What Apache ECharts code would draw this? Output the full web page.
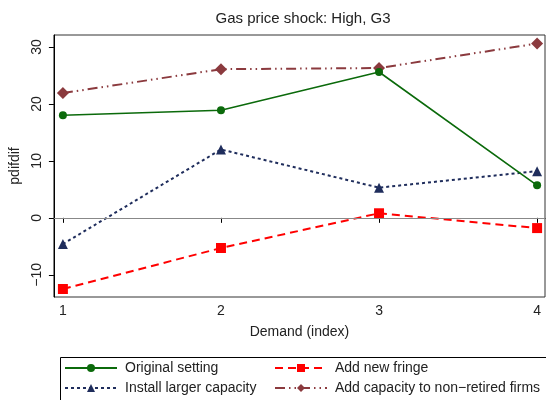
<!DOCTYPE html>
<html>
<head>
<meta charset="utf-8">
<script src="https://cdn.jsdelivr.net/npm/echarts@6/dist/echarts.min.js"></script>
<style>
  html, body { margin: 0; padding: 0; background: #fff; }
  #chart { width: 546px; height: 400px; }
</style>
</head>
<body>
<div id="chart"></div>
<script>
var demand = [1, 2, 3, 4];
var original = [18.0, 18.9, 25.6, 5.7];
var newFringe = [-12.5, -5.3, 0.8, -1.8];
var largerCap = [-4.6, 12.0, 5.3, 8.2];
var nonRetired = [21.9, 26.1, 26.3, 30.6];

var xTicks = [1, 2, 3, 4];
var yTicks = [-10, 0, 10, 20, 30];

var seriesNames = [
    'Original setting',
    'Add new fringe',
    'Install larger capacity',
    'Add capacity to non\u2212retired firms'
];

function pairs(vals) {
    return demand.map(function (d, i) { return [d, vals[i]]; });
}

var font = 'Liberation Sans, Arial, sans-serif';

var myChart = echarts.init(document.getElementById('chart'));

var legendBase = {
    orient: 'vertical', top: 361, height: 38, padding: 0,
    itemWidth: 52, itemHeight: 10, itemGap: 6,
    textStyle: { fontFamily: font, fontSize: 14, color: '#222', lineHeight: 14, padding: [0, 0, 0, 3] }
};

var option = {
    animation: false,
    backgroundColor: '#fff',
    textStyle: { fontFamily: font },
    title: {
        text: 'Gas price shock: High, G3',
        left: 298, top: 6, textAlign: 'center',
        textStyle: { fontFamily: font, fontSize: 15, fontWeight: 'normal', color: '#222' }
    },
    grid: {
        left: 52, right: 1, top: 35, bottom: 103,
        show: true, borderColor: '#333', borderWidth: 1
    },
    xAxis: {
        type: 'value', min: 0.943, max: 4.05,
        name: 'Demand (index)', nameLocation: 'middle', nameGap: 28,
        nameTextStyle: { fontFamily: font, fontSize: 14, color: '#222' },
        axisLine: { show: true, lineStyle: { color: '#000' } },
        axisTick: { show: true, length: 5, customValues: xTicks, lineStyle: { color: '#000' } },
        axisLabel: { customValues: xTicks, fontSize: 14, color: '#222', margin: 7, fontFamily: font },
        splitLine: { show: false }
    },
    yAxis: {
        type: 'value', min: -13.9, max: 32.1,
        name: 'pdifdif', nameLocation: 'middle', nameGap: 31, nameRotate: 90,
        nameTextStyle: { fontFamily: font, fontSize: 14, color: '#222' },
        axisLine: { show: true, lineStyle: { color: '#000' } },
        axisTick: { show: true, length: 5, customValues: yTicks, lineStyle: { color: '#000' } },
        axisLabel: {
            customValues: yTicks, rotate: 90, fontSize: 14, color: '#222', margin: 10, fontFamily: font,
            formatter: function (v) { return String(v).replace('-', '\u2212'); }
        },
        splitLine: { show: false }
    },
    legend: [
        Object.assign({}, legendBase, { left: 64, data: [seriesNames[0], seriesNames[2]] }),
        Object.assign({}, legendBase, { left: 274, data: [seriesNames[1], seriesNames[3]] })
    ],
    graphic: [
        {
            type: 'rect', left: 58, top: 355,
            shape: { width: 486, height: 60 },
            style: { fill: 'none', stroke: '#000', lineWidth: 1 },
            silent: true
        }
    ],
    series: [
        {
            name: seriesNames[0], type: 'line', data: pairs(original),
            symbol: 'circle', symbolSize: 8,
            itemStyle: { color: '#0B6A0B' },
            lineStyle: { color: '#0B6A0B', width: 1.6, type: 'solid' },
            markLine: {
                silent: true, symbol: 'none', label: { show: false },
                lineStyle: { color: '#888', width: 1, type: 'solid' },
                data: [{ yAxis: 0 }]
            },
            z: 5
        },
        {
            name: seriesNames[1], type: 'line', data: pairs(newFringe),
            symbol: 'rect', symbolSize: 10,
            itemStyle: { color: '#FF0000' },
            lineStyle: { color: '#FF0000', width: 2, type: [8, 5] },
            z: 4
        },
        {
            name: seriesNames[2], type: 'line', data: pairs(largerCap),
            symbol: 'triangle', symbolSize: 10,
            itemStyle: { color: '#1F2D5C' },
            lineStyle: { color: '#1F2D5C', width: 2, type: [3, 3] },
            z: 3
        },
        {
            name: seriesNames[3], type: 'line', data: pairs(nonRetired),
            symbol: 'diamond', symbolSize: 12,
            itemStyle: { color: '#8B3A3E' },
            lineStyle: { color: '#8B3A3E', width: 2, type: [10, 4, 1.5, 4, 1.5, 4] },
            z: 2
        }
    ]
};

myChart.setOption(option);
</script>
</body>
</html>
